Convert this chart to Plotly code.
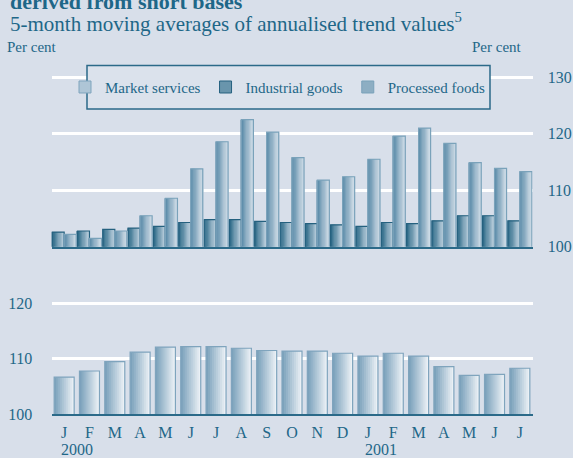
import plotly.graph_objects as go

# ---------------- data ----------------
months = ["J", "F", "M", "A", "M", "J", "J", "A", "S", "O", "N", "D",
          "J", "F", "M", "A", "M", "J", "J"]
year_labels = ["2000", "2001"]
year_positions = [0, 12]
industrial_goods = [102.6, 102.8, 103.1, 103.3, 103.6, 104.3, 104.8, 104.8, 104.5, 104.3,
                    104.1, 103.9, 103.6, 104.3, 104.1, 104.6, 105.5, 105.5, 104.6]
processed_foods = [102.2, 101.5, 102.8, 105.5, 108.6, 113.8, 118.6, 122.5, 120.3, 115.8,
                   111.8, 112.4, 115.5, 119.6, 121.0, 118.3, 114.9, 113.9, 113.3]
market_services = [106.7, 107.8, 109.5, 111.2, 112.1, 112.2, 112.2, 111.9, 111.5, 111.4,
                   111.4, 111.0, 110.5, 111.0, 110.5, 108.6, 107.0, 107.2, 108.3]
top_ticks = [100, 110, 120, 130]
bottom_ticks = [100, 110, 120]

# ---------------- style ----------------
W, H = 573, 458
HV = 450.0  # vertical extent used for placing elements in paper fractions
BG = "#D8DFEA"
TEXT = "#1E6788"
AXIS = "#2B6A89"
FONT = "Liberation Serif"
x = list(range(len(months)))


def py(px):
    return 1 - px / HV


def hex2rgb(h):
    h = h.lstrip("#")
    return tuple(int(h[i:i + 2], 16) for i in (0, 2, 4))


def lerp(c1, c2, t):
    a, b = hex2rgb(c1), hex2rgb(c2)
    return "rgb(%d,%d,%d)" % tuple(round(a[i] + (b[i] - a[i]) * t) for i in range(3))


fig = go.Figure()


def gradient_bars(values, name, c_left, c_right, c_line, offset, width, xa, ya, rank, n=10):
    step = width / n
    for i in range(n):
        t = i / (n - 1)
        w = min(step * 1.6, width - i * step)
        fig.add_trace(go.Bar(
            x=x, y=values, offset=offset + i * step, width=w,
            marker=dict(color=lerp(c_left, c_right, t), line=dict(width=0)),
            showlegend=False, hoverinfo="skip", xaxis=xa, yaxis=ya))
    # outline
    fig.add_trace(go.Bar(
        x=x, y=values, offset=offset, width=width, name=name,
        marker=dict(color="rgba(0,0,0,0)", line=dict(color=c_line, width=1.2)),
        showlegend=False, xaxis=xa, yaxis=ya))
    # legend entry
    fig.add_trace(go.Bar(
        x=[None], y=[None], name=name, legendrank=rank,
        marker=dict(color=lerp(c_left, c_right, 0.45), line=dict(color=c_line, width=1)),
        showlegend=True, xaxis=xa, yaxis=ya))


gradient_bars(industrial_goods, "Industrial goods", "#2A6886", "#B6CBDA", "#25617F",
              -0.475, 0.475, "x", "y", 2)
gradient_bars(processed_foods, "Processed foods", "#5A8AA8", "#CCDAE5", "#7AA2BA",
              0.0, 0.475, "x", "y", 3)
gradient_bars(market_services, "Market services", "#7CA2BC", "#EAF0F5", "#7FA4BD",
              -0.395, 0.79, "x2", "y2", 1)

xdom = [51.5 / W, 532.5 / W]
axis_font = dict(family=FONT, size=16, color=TEXT)

fig.update_layout(
    width=W, height=H, autosize=False,
    margin=dict(l=0, r=0, t=0, b=0),
    paper_bgcolor=BG, plot_bgcolor=BG,
    barmode="overlay",
    showlegend=True,
    legend=dict(orientation="h", x=65 / W, y=py(85), xanchor="left", yanchor="middle",
                bgcolor="rgba(0,0,0,0)", borderwidth=0,
                font=dict(family=FONT, size=15, color=TEXT),
                traceorder="normal"),
    xaxis=dict(domain=xdom, range=[-0.5, 18.5], anchor="y", showticklabels=False,
               showgrid=False, zeroline=False, showline=True, linecolor=AXIS, linewidth=1.5,
               ticks=""),
    yaxis=dict(domain=[py(246), py(69.3)], range=[100, 131], anchor="x", side="right",
               tickvals=top_ticks, showgrid=True, gridcolor="white", gridwidth=2.5,
               zeroline=False, showline=False, ticks="outside", ticklen=11,
               tickcolor="rgba(0,0,0,0)", tickfont=axis_font),
    xaxis2=dict(domain=xdom, range=[-0.5, 18.5], anchor="y2", tickvals=x, ticktext=months,
                showgrid=False, zeroline=False, showline=True, linecolor=AXIS, linewidth=1.5,
                ticks="outside", ticklen=3, tickcolor="rgba(0,0,0,0)", tickfont=axis_font),
    yaxis2=dict(domain=[py(415), py(297.4)], range=[100, 121], anchor="x2", side="left",
                tickvals=bottom_ticks, showgrid=True, gridcolor="white", gridwidth=2.5,
                zeroline=False, showline=False, ticks="outside", ticklen=15,
                tickcolor="rgba(0,0,0,0)", tickfont=axis_font),
)

# legend box
fig.add_shape(type="rect", xref="paper", yref="paper",
              x0=87 / W, x1=490 / W, y0=py(107), y1=py(63),
              line=dict(color=AXIS, width=1.5), fillcolor="#DBE2EC", layer="above")

# titles
fig.add_annotation(text="<b>derived from short bases</b>", xref="paper", yref="paper",
                   x=8 / W, y=py(-2), xanchor="left", yanchor="middle", showarrow=False,
                   font=dict(family=FONT, size=22, color=TEXT))
fig.add_annotation(text="5-month moving averages of annualised trend values<sup>5</sup>",
                   xref="paper", yref="paper", x=8 / W, y=py(20), xanchor="left",
                   yanchor="middle", showarrow=False, font=dict(family=FONT, size=21, color=TEXT))
fig.add_annotation(text="Per cent", xref="paper", yref="paper", x=5 / W, y=py(44),
                   xanchor="left", yanchor="middle", showarrow=False,
                   font=dict(family=FONT, size=15, color=TEXT))
fig.add_annotation(text="Per cent", xref="paper", yref="paper", x=470 / W, y=py(44),
                   xanchor="left", yanchor="middle", showarrow=False,
                   font=dict(family=FONT, size=15, color=TEXT))

for pos, label in zip(year_positions, year_labels):
    fig.add_annotation(text=label, xref="x2", yref="paper", x=pos, y=py(451),
                       xanchor="left", yanchor="middle", xshift=-5, showarrow=False,
                       font=dict(family=FONT, size=16, color=TEXT))

fig.write_html(
    "out.html",
    config={"displayModeBar": False, "responsive": False},
    post_script=("document.documentElement.style.margin='0';"
                 "document.documentElement.style.overflow='hidden';"
                 "document.body.style.margin='0';document.body.style.padding='0';"
                 "document.body.style.overflow='hidden';"
                 "document.body.style.background='%s';" % BG),
)
